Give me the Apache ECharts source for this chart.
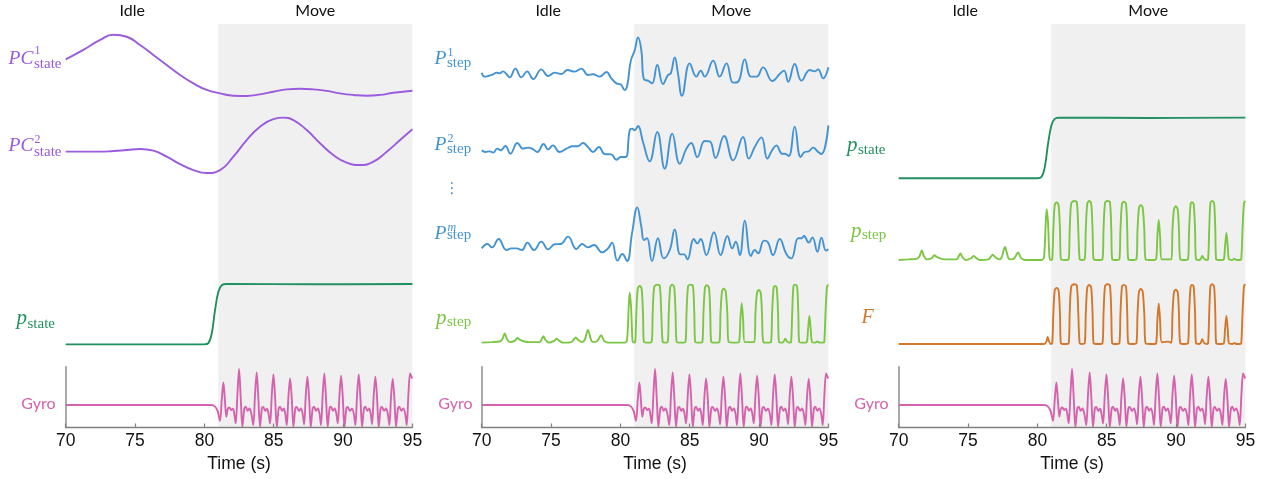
<!DOCTYPE html>
<html><head><meta charset="utf-8">
<script src="https://cdn.jsdelivr.net/npm/echarts@6/dist/echarts.min.js"></script>
<style>html,body{margin:0;padding:0;background:#fff}#c{width:1266px;height:479px}</style>
</head><body><div id="c"></div>
<script>
// ---------------- data (time in s, values in arbitrary units / probabilities) ----------------
const xRange = [70, 95];
const moveRange = [81, 95];
const idleLabelTime = 74.8;
const phaseNames = ['Idle', 'Move'];
const axisTitle = 'Time (s)';

const pc1 = [[70.00,0.70],[71.27,1.17],[72.48,1.67],[73.44,1.93],[74.40,1.83],[75.36,1.42],[76.32,0.92],[77.28,0.42],[78.25,-0.08],[79.21,-0.50],[80.17,-0.83],[81.13,-1.00],[82.09,-1.12],[83.05,-1.13],[84.01,-1.05],[84.98,-0.92],[85.94,-0.80],[86.90,-0.77],[87.86,-0.80],[88.82,-0.88],[89.78,-1.00],[90.75,-1.08],[91.71,-1.12],[92.67,-1.08],[93.63,-0.97],[95.00,-0.87]];

const pc2 = [[70.00,0],[71.27,0],[72.48,0],[73.44,0.03],[74.40,0.08],[75.36,0.13],[76.32,0.05],[77.28,-0.25],[78.25,-0.62],[79.21,-0.92],[80.17,-1.07],[81.13,-0.92],[82.09,-0.25],[83.05,0.58],[84.01,1.25],[84.98,1.63],[85.70,1.70],[86.42,1.58],[87.38,1.08],[88.34,0.42],[89.30,-0.17],[90.26,-0.55],[91.23,-0.67],[92.19,-0.50],[93.15,0],[94.11,0.58],[95.00,1.12]];

const pState = [[70,0],[80.0,0],[80.29,0.02],[80.53,0.18],[80.77,0.57],[81.01,0.87],[81.25,0.98],[81.61,1.0],[88.0,0.995],[95,1.0]];

const pStep1 = [[70.00,0.30],[70.21,0.00],[70.46,0.05],[70.82,0.18],[71.06,0.30],[71.29,0.25],[71.54,0.40],[71.78,0.20],[72.02,-0.05],[72.43,0.60],[72.86,-0.05],[73.27,0.40],[73.71,-0.18],[74.30,0.55],[74.79,0.05],[75.26,0.30],[75.75,0.20],[76.18,0.50],[76.70,0.38],[77.19,0.60],[77.66,0.13],[78.03,0.18],[78.51,0.00],[78.99,0.35],[79.35,-0.13],[79.71,-0.50],[80.03,-0.58],[80.31,-1.00],[80.50,-0.63],[80.74,1.13],[81.04,2.00],[81.27,2.95],[81.51,2.00],[81.70,-0.20],[81.99,-0.30],[82.28,-0.50],[82.66,0.88],[83.07,-0.55],[83.44,0.13],[83.63,0.25],[83.92,1.45],[84.15,0.25],[84.44,-1.43],[85.00,1.00],[85.48,0.00],[85.79,0.45],[86.08,0.00],[86.69,1.20],[87.16,0.00],[87.65,1.00],[88.13,-0.45],[88.49,-0.38],[88.97,1.30],[89.41,0.00],[89.82,0.00],[90.29,0.70],[90.96,-0.33],[91.49,0.20],[91.80,0.45],[92.10,-0.38],[92.57,0.95],[93.06,-0.30],[93.66,0.50],[94.02,0.40],[94.26,0.55],[94.62,-0.13],[95.00,0.70]];

const pStep2 = [[70.00,0.13],[70.26,0.00],[70.58,0.05],[70.82,-0.05],[71.13,0.25],[71.37,0.13],[71.71,0.45],[72.07,-0.13],[72.57,0.68],[72.98,0.25],[73.34,0.33],[73.71,0.20],[74.01,0.00],[74.47,0.60],[74.79,0.20],[75.14,0.50],[75.61,0.00],[76.11,0.25],[76.58,0.43],[76.95,0.43],[77.30,0.68],[77.66,0.38],[78.03,0.00],[78.46,0.38],[78.86,-0.15],[79.35,-0.18],[79.71,-0.58],[80.03,-0.38],[80.38,-0.38],[80.67,1.63],[80.84,1.75],[81.04,1.63],[81.27,1.95],[81.63,0.75],[82.11,-0.70],[82.66,1.50],[83.20,-1.25],[83.74,1.38],[84.28,-0.88],[84.76,0.25],[85.11,0.68],[85.55,-0.38],[86.08,0.83],[86.45,0.80],[86.86,-0.45],[87.48,1.20],[88.13,-0.63],[88.85,1.13],[89.26,-0.50],[89.69,0.38],[90.17,1.10],[90.60,-0.50],[90.94,0.13],[91.25,0.50],[91.66,-0.13],[91.85,-0.13],[92.14,-0.30],[92.57,1.90],[93.00,-0.38],[93.29,0.00],[93.58,0.05],[93.90,0.33],[94.26,0.00],[94.50,-0.15],[95.00,2.00]];

const pStepM = [[70.00,-0.13],[70.41,0.20],[70.75,-0.05],[71.22,0.58],[71.78,-0.25],[72.14,-0.13],[72.50,-0.13],[72.91,-0.25],[73.29,0.30],[73.77,-0.25],[74.30,0.38],[74.79,-0.20],[75.26,0.18],[75.70,0.20],[76.22,0.75],[76.83,-0.18],[77.24,0.20],[77.66,-0.05],[78.10,0.13],[78.68,-0.43],[79.11,-0.13],[79.40,0.30],[79.79,-1.05],[80.14,-0.55],[80.48,-1.08],[80.84,1.00],[81.22,2.95],[81.51,1.50],[81.70,0.50],[81.92,0.63],[82.28,-1.08],[82.71,0.63],[83.12,-0.88],[83.56,-0.25],[83.92,1.30],[84.32,-0.58],[84.59,-0.58],[84.83,-0.95],[85.29,0.58],[85.55,0.25],[85.79,0.58],[86.20,-0.63],[86.75,1.08],[87.23,-0.63],[87.72,0.80],[88.06,-0.13],[88.32,0.38],[88.61,-0.63],[88.97,1.95],[89.41,-0.70],[89.69,-0.25],[89.93,-0.50],[90.36,0.45],[90.64,0.33],[91.01,-0.63],[91.49,0.58],[91.97,-0.55],[92.33,-0.88],[92.82,0.63],[93.06,0.63],[93.24,0.80],[93.58,0.30],[93.85,0.70],[94.21,-0.38],[94.50,0.68],[94.83,-0.30],[95.00,-0.20]];

const pStep = [[70.00,0],[70.70,0.01],[71.29,0.02],[71.49,0.06],[71.66,0.16],[71.83,0.06],[72.02,0.01],[72.38,0.03],[72.57,0.08],[72.76,0.05],[73.10,0.02],[73.46,0.01],[73.82,0.01],[74.18,0.01],[74.30,0.05],[74.45,0.11],[74.59,0.05],[74.83,0],[75.21,0.03],[75.41,0.07],[75.60,0.03],[75.87,0],[76.46,0.01],[76.63,0.05],[76.78,0.09],[76.95,0.05],[77.24,0.01],[77.43,0.05],[77.66,0.22],[77.91,0.03],[78.10,0.01],[78.34,0.03],[78.61,0.13],[78.83,0.03],[79.11,0],[80.31,0],
[80.48,0.05],[80.60,0.62],[80.67,0.86],[80.77,0.62],[80.87,0.05],[80.96,0],
[81.07,0.01],[81.15,0.51],[81.25,0.93],[81.39,0.98],[81.53,0.93],[81.63,0.51],[81.70,0.01],[81.99,0],
[82.25,0.01],[82.33,0.51],[82.44,0.96],[82.64,1.0],[82.84,0.98],[82.95,0.51],[83.05,0.01],[83.20,0],
[83.41,0.01],[83.49,0.51],[83.60,0.96],[83.74,1.0],[83.88,0.96],[83.98,0.51],[84.06,0.01],[84.40,0],
[84.69,0.01],[84.77,0.51],[84.88,0.97],[85.04,1.0],[85.23,0.98],[85.33,0.51],[85.40,0.01],[85.72,0],
[85.91,0.01],[85.99,0.51],[86.10,0.95],[86.23,0.99],[86.39,0.95],[86.48,0.51],[86.56,0.01],[86.92,0],
[87.14,0.01],[87.22,0.51],[87.33,0.89],[87.45,0.93],[87.59,0.89],[87.71,0.51],[87.81,0.01],[88.36,0],
[88.56,0.01],[88.65,0.39],[88.75,0.68],[88.85,0.39],[88.97,0.01],[89.44,0.01],
[89.66,0.01],[89.74,0.51],[89.85,0.86],[89.98,0.91],[90.12,0.86],[90.21,0.51],[90.31,0.01],[90.65,0],
[90.86,0.01],[90.94,0.51],[91.05,0.95],[91.15,0.98],[91.27,0.95],[91.37,0.51],[91.44,0.01],[91.66,0],
[91.78,0.02],[91.89,0.07],[92.02,0.02],[92.21,0],
[92.31,0.01],[92.39,0.51],[92.48,0.97],[92.60,1.0],[92.74,0.97],[92.83,0.51],[92.90,0.01],[93.24,0],
[93.44,0.01],[93.53,0.22],[93.63,0.46],[93.73,0.22],[93.82,0.01],
[94.06,0],[94.21,0.02],[94.36,0],[94.60,0],
[94.70,0.01],[94.79,0.5],[94.90,0.97],[95.00,1.0]];

const force = [[70,0],[80.50,0],[80.66,0.05],[80.74,0.12],[80.83,0.05],[80.96,0],
[81.07,0.01],[81.15,0.50],[81.25,0.90],[81.39,0.94],[81.53,0.90],[81.63,0.50],[81.70,0.01],[81.99,0],
[82.25,0.01],[82.33,0.51],[82.44,0.96],[82.64,1.0],[82.84,0.98],[82.95,0.51],[83.05,0.01],[83.20,0],
[83.41,0.01],[83.49,0.51],[83.60,0.95],[83.74,0.99],[83.88,0.95],[83.98,0.51],[84.06,0.01],[84.40,0],
[84.69,0.01],[84.77,0.51],[84.88,0.97],[85.04,1.0],[85.23,0.98],[85.33,0.51],[85.40,0.01],[85.72,0],
[85.91,0.01],[85.99,0.51],[86.10,0.96],[86.23,0.99],[86.39,0.96],[86.48,0.51],[86.56,0.01],[86.92,0],
[87.14,0.01],[87.22,0.50],[87.33,0.88],[87.45,0.92],[87.59,0.88],[87.71,0.50],[87.81,0.01],[88.36,0],
[88.56,0.01],[88.65,0.39],[88.75,0.68],[88.85,0.39],[88.97,0.03],[89.44,0.04],
[89.66,0.02],[89.74,0.50],[89.85,0.87],[89.98,0.91],[90.12,0.87],[90.21,0.50],[90.31,0.01],[90.65,0],
[90.86,0.01],[90.94,0.51],[91.05,0.96],[91.15,0.99],[91.27,0.96],[91.37,0.51],[91.44,0.01],[91.66,0],
[91.78,0.02],[91.89,0.08],[92.02,0.02],[92.21,0],
[92.31,0.01],[92.39,0.51],[92.48,0.97],[92.60,1.0],[92.74,0.97],[92.83,0.51],[92.90,0.01],[93.24,0],
[93.44,0.01],[93.53,0.24],[93.63,0.47],[93.73,0.24],[93.82,0.01],
[94.06,0],[94.21,0.02],[94.36,0],[94.60,0],
[94.70,0.01],[94.79,0.5],[94.90,0.97],[95.00,1.0]];

const gyro = [[70,0],[80.5,0],[80.75,-0.08],[80.95,-0.35],[81.13,-0.95],[81.25,0.3],[81.37,1.36],[81.48,0.3],[81.58,-0.7],[81.68,-0.25],[81.80,-0.15],[81.94,-0.3],[82.06,-0.22],[82.16,-0.55],
[82.26,-1.1],[82.38,0.6],[82.50,2.16],[82.62,0.45],[82.74,-1.32],[82.88,-0.2],[82.98,-0.1],[83.12,-0.35],[83.25,-0.2],[83.38,-0.5],
[83.53,-1.2],[83.65,0.6],[83.77,1.96],[83.89,0.45],[84.01,-1.3],[84.15,-0.18],[84.25,-0.12],[84.39,-0.35],[84.52,-0.22],[84.62,-0.5],
[84.74,-1.1],[84.86,0.6],[84.98,1.84],[85.10,0.45],[85.22,-1.32],[85.36,-0.2],[85.46,-0.1],[85.60,-0.35],[85.72,-0.2],[85.83,-0.5],
[85.94,-1.2],[86.06,0.5],[86.18,1.60],[86.30,0.4],[86.42,-1.28],[86.56,-0.2],[86.66,-0.12],[86.82,-0.35],[86.96,-0.2],[87.08,-0.5],
[87.19,-1.15],[87.31,0.55],[87.43,1.70],[87.55,0.45],[87.67,-1.32],[87.81,-0.2],[87.91,-0.1],[88.05,-0.35],[88.18,-0.2],[88.30,-0.5],
[88.41,-1.2],[88.53,0.6],[88.65,1.90],[88.77,0.45],[88.89,-1.3],[89.03,-0.18],[89.13,-0.1],[89.27,-0.35],[89.40,-0.2],[89.51,-0.5],
[89.62,-1.1],[89.74,0.6],[89.86,1.76],[89.98,0.45],[90.10,-1.32],[90.24,-0.2],[90.34,-0.12],[90.50,-0.35],[90.64,-0.22],[90.77,-0.5],
[90.89,-1.2],[91.01,0.6],[91.13,1.84],[91.25,0.45],[91.37,-1.3],[91.51,-0.2],[91.61,-0.1],[91.75,-0.35],[91.88,-0.2],[91.99,-0.5],
[92.09,-1.15],[92.21,0.55],[92.33,1.70],[92.45,0.45],[92.57,-1.32],[92.71,-0.2],[92.81,-0.12],[92.96,-0.35],[93.10,-0.2],[93.22,-0.5],
[93.34,-1.2],[93.46,0.5],[93.58,1.56],[93.70,0.4],[93.82,-1.3],[93.96,-0.2],[94.06,-0.1],[94.20,-0.35],[94.33,-0.2],[94.47,-0.5],
[94.59,-1.2],[94.71,0.6],[94.83,1.90],[94.92,1.7],[95.00,1.6]];

// ---------------- styling / layout ----------------
const C = {pc:'#9a5bdc', blue:'#4393d3', dgreen:'#21905f', lgreen:'#7bc642', orange:'#d4772b', pink:'#d562ad', shade:'#f0f0f0', axis:'#808080'};
const W = 346.7;
const LW = 1.9;
const panelLeft = [65.7, 481.7, 898.7];

const grids = [], xAxes = [], yAxes = [], series = [];

function addGrid(left, top, height, ymin, ymax, xVisible, yLine) {
  const i = grids.length;
  grids.push({left: left, top: top, width: W, height: height});
  xAxes.push(xVisible ? {
    type:'value', gridIndex:i, min:xRange[0], max:xRange[1], interval:5, z:5,
    axisLine:{show:true, onZero:false, lineStyle:{color:C.axis, width:1.3}},
    axisTick:{show:true, inside:true, length:4, lineStyle:{color:C.axis, width:1.2}},
    axisLabel:{show:true, margin:5, fontSize:17.5, color:'#111', fontFamily:'Liberation Sans'},
    splitLine:{show:false},
    name: axisTitle, nameLocation:'middle', nameGap:28,
    nameTextStyle:{fontSize:17.5, color:'#111', fontFamily:'Liberation Sans'}
  } : {type:'value', gridIndex:i, min:xRange[0], max:xRange[1], show:false});
  yAxes.push(yLine ? {
    type:'value', gridIndex:i, min:ymin, max:ymax, z:5,
    axisLine:{show:true, onZero:false, lineStyle:{color:'#8c8c8c', width:1.5}},
    axisTick:{show:false}, axisLabel:{show:false}, splitLine:{show:false}
  } : {type:'value', gridIndex:i, min:ymin, max:ymax, show:false});
  return i;
}

function addLine(gi, data, color, smooth) {
  series.push({type:'line', xAxisIndex:gi, yAxisIndex:gi, data:data, showSymbol:false, symbol:'none',
    smooth:smooth, lineStyle:{color:color, width:LW}, silent:true, z:3});
}

function addBackground(left) {
  const gi = addGrid(left, 24, 403.5, 0, 1, true, false);
  series.push({type:'line', xAxisIndex:gi, yAxisIndex:gi, data:[[xRange[0],0]], showSymbol:false, symbol:'none',
    lineStyle:{opacity:0}, silent:true, z:0,
    markArea:{silent:true, itemStyle:{color:C.shade},
      label:{show:true, position:'top', distance:5, fontSize:16, color:'#111', fontFamily:'Lato'},
      data:[[{name:phaseNames[1], xAxis:moveRange[0]},{xAxis:moveRange[1]}]]},
    markPoint:{silent:true, symbol:'circle', symbolSize:1, itemStyle:{color:'rgba(0,0,0,0)'},
      label:{show:true, position:'top', distance:5, fontSize:16, color:'#111', fontFamily:'Lato', formatter:phaseNames[0]},
      data:[{coord:[idleLabelTime, 1]}]}
  });
}

// panel 1
addBackground(panelLeft[0]);
addLine(addGrid(panelLeft[0], 29.33, 74, -1.5, 2.2), pc1, C.pc, 0.5);
addLine(addGrid(panelLeft[0], 107.67, 74, -1.5, 2.2), pc2, C.pc, 0.5);
addLine(addGrid(panelLeft[0], 277.97, 72.4, -0.1, 1.1), pState, C.dgreen, 0.4);
addLine(addGrid(panelLeft[0], 366.7, 60.7, -1.34, 2.3, false, true), gyro, C.pink, 0.3);
// panel 2
addBackground(panelLeft[1]);
addLine(addGrid(panelLeft[1], 30, 70, -1.75, 3.5), pStep1, C.blue, 0.45);
addLine(addGrid(panelLeft[1], 112, 65.33, -1.9, 3.0), pStep2, C.blue, 0.45);
addLine(addGrid(panelLeft[1], 200, 66.67, -1.5, 3.5), pStepM, C.blue, 0.45);
addLine(addGrid(panelLeft[1], 281.77, 66.7, -0.1, 1.05), pStep, C.lgreen, 0.3);
addLine(addGrid(panelLeft[1], 366.7, 60.7, -1.34, 2.3, false, true), gyro, C.pink, 0.3);
// panel 3
addBackground(panelLeft[2]);
addLine(addGrid(panelLeft[2], 111.6, 72.7, -0.1, 1.1), pState, C.dgreen, 0.4);
addLine(addGrid(panelLeft[2], 198.05, 67.85, -0.1, 1.05), pStep, C.lgreen, 0.3);
addLine(addGrid(panelLeft[2], 281.3, 68.7, -0.1, 1.05), force, C.orange, 0.3);
addLine(addGrid(panelLeft[2], 366.7, 60.7, -1.34, 2.3, false, true), gyro, C.pink, 0.3);

// ---------------- trace labels ----------------
const SERIF = 'Liberation Serif';
function txt(x, y, text, size, color, o) {
  o = o || {};
  return {type:'text', x:x, y:y, silent:true, z:10, style:{
    text:text, fontSize:size, fontFamily:o.family || SERIF,
    fontStyle:o.italic ? 'italic' : 'normal', fontWeight:o.bold ? 'bold' : 'normal',
    fill:color, textAlign:o.align || 'left', textVerticalAlign:'middle', align:o.align || 'left', verticalAlign:'middle'}};
}
const IR = {italic:true, align:'right'};
const GY = {family:'Lato', align:'right'};
const labels = [
  txt(33.5, 58.6, 'PC', 19.5, C.pc, IR), txt(34.5, 51, '1', 12, C.pc), txt(34, 63.9, 'state', 15, C.pc),
  txt(33.5, 146.3, 'PC', 19.5, C.pc, IR), txt(34.5, 140, '2', 12, C.pc), txt(34, 151.6, 'state', 15, C.pc),
  txt(27, 318.9, 'p', 21, C.dgreen, IR), txt(27.5, 324, 'state', 15, C.dgreen),
  txt(55.5, 404, 'Gyro', 16, C.pink, GY),

  txt(446.5, 58.6, 'P', 19.5, C.blue, IR), txt(447.5, 53.3, '1', 12, C.blue), txt(447, 62.6, 'step', 15, C.blue),
  txt(446.5, 145.3, 'P', 19.5, C.blue, IR), txt(447.5, 139.3, '2', 12, C.blue), txt(447, 148.6, 'step', 15, C.blue),
  txt(452, 189, '\u22EE', 15, C.blue, {family:'DejaVu Sans', align:'center'}),
  txt(446.5, 234.3, 'P', 19.5, C.blue, IR), txt(447.5, 227.6, 'm', 12, C.blue, {italic:true}), txt(447, 235.3, 'step', 15, C.blue),
  txt(446.5, 318.9, 'p', 21, C.lgreen, IR), txt(447, 322, 'step', 15, C.lgreen),
  txt(472.5, 404, 'Gyro', 16, C.pink, GY),

  txt(857.5, 145.2, 'p', 21, C.dgreen, IR), txt(858, 150, 'state', 15, C.dgreen),
  txt(861.5, 231.9, 'p', 21, C.lgreen, IR), txt(862, 235, 'step', 15, C.lgreen),
  txt(867.5, 317.6, 'F', 20, C.orange, {italic:true, align:'center'}),
  txt(888.5, 404, 'Gyro', 16, C.pink, GY)
];

const chart = echarts.init(document.getElementById('c'), null, {renderer:'canvas'});
chart.setOption({
  animation:false,
  backgroundColor:'#fff',
  grid:grids, xAxis:xAxes, yAxis:yAxes, series:series,
  graphic:{elements:labels}
});
</script>
</body></html>
